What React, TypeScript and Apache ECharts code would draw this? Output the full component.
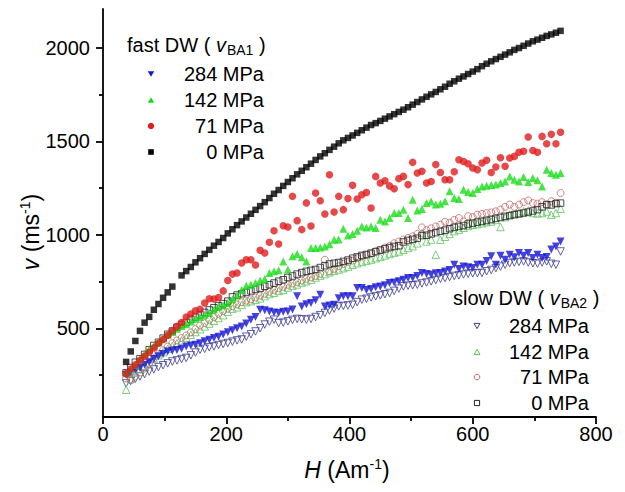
import React, { useEffect, useRef } from 'react';
import * as echarts from 'echarts';

// Magnetic field H (A/m) sampling positions shared by all series
const H = [
  37.5, 45, 52.5, 60, 67.5, 75, 82.5, 90, 97.5, 105,
  112.5, 120, 127.5, 135, 142.5, 150, 157.5, 165, 172.5, 180,
  187.5, 195, 202.5, 210, 217.5, 225, 232.5, 240, 247.5, 255,
  262.5, 270, 277.5, 285, 292.5, 300, 307.5, 315, 322.5, 330,
  337.5, 345, 352.5, 360, 367.5, 375, 382.5, 390, 397.5, 405,
  412.5, 420, 427.5, 435, 442.5, 450, 457.5, 465, 472.5, 480,
  487.5, 495, 502.5, 510, 517.5, 525, 532.5, 540, 547.5, 555,
  562.5, 570, 577.5, 585, 592.5, 600, 607.5, 615, 622.5, 630,
  637.5, 645, 652.5, 660, 667.5, 675, 682.5, 690, 697.5, 705,
  712.5, 720, 727.5, 735, 742.5,
];

// fast DW (v_BA1)
const fast0 = [
  320, 376, 432, 486, 530, 561, 599, 630, 663, 692,
  723, null, 783, 806, 828, 853, 875, 898, 920, 942,
  962, 983, 1008, 1030, 1052, 1072, 1093, 1113, 1134, 1154,
  1175, 1197, 1220, 1240, 1262, 1283, 1303, 1324, 1343, 1362,
  1381, 1401, 1420, 1437, 1455, 1472, 1490, 1506, 1519, 1532,
  1546, 1560, 1574, 1588, 1598, 1610, 1622, 1634, 1646, 1658,
  1670, 1683, 1697, 1711, 1725, 1739, 1752, 1765, 1779, 1793,
  1809, 1822, 1836, 1848, 1861, 1874, 1887, 1903, 1916, 1929,
  1941, 1953, 1965, 1977, 1990, 2000, 2012, 2024, 2036, 2045,
  2055, 2065, 2073, 2082, 2092,
];
const fast71 = [
  257, 282, 305, 328, 350, 372, 395, 420, 440, 462,
  487, 510, 531, 560, 576, 594, 601, 635, 658, 657,
  665, 700, 756, 790, 796, 849, 867, 867, 839, 917,
  903, 960, 1022, 951, 1049, 1042, 1206, 1076, 1028, 1171,
  1047, 1224, 1183, 1112, 1322, 1122, 1206, 1135, 1194, 1265,
  1192, 1215, 1227, 1144, 1313, 1278, 1290, 1262, 1247, 1301,
  1313, 1269, 1388, 1331, 1340, 1278, 1286, 1376, 1334, 1295,
  1295, 1338, 1402, 1393, 1381, 1358, 1349, 1385, 1399, 1334,
  1363, 1413, 1367, 1411, 1420, 1442, 1447, 1524, 1452, 1442,
  1527, 1488, 1538, 1488, 1549,
];
const fast142 = [
  262, 280, 305, 335, 362, 389, 405, 425, 445, 465,
  480, 497, 512, 522, 536, 551, 560, 572, 582, 600,
  617, 622, 635, 655, 675, 705, 728, 733, 742, 756,
  764, 796, 805, 810, 858, 814, 885, 898, 880, 858,
  930, 930, 932, 938, 950, 974, 975, 1033, 996, 1005,
  1022, 1045, 1040, 1045, 1037, 1081, 1072, 1090, 1117, 1117,
  1135, 1090, 1188, 1131, 1138, 1171, 1179, 1162, 1167, 1180,
  1233, 1197, 1192, 1242, 1230, 1224, 1246, 1259, 1263, 1267,
  1269, 1278, 1286, 1313, 1295, 1286, 1310, 1283, 1304, 1292,
  1259, 1349, 1331, 1322, 1331,
];
const fast284 = [
  251, 265, 278, 287, 305, 318, 335, 350, 362, 376,
  380, 383, 390, 403, 408, 412, 420, 430, 438, 448,
  455, 466, 478, 490, 500, 510, 525, 546, 560, 599,
  596, 590, 585, 582, 588, 590, 600, 671, 617, 628,
  635, 650, 680, 617, 622, 626, 660, 671, 671, 671,
  716, 716, 705, 710, 719, 724, 730, 742, 745, 751,
  760, 769, 769, 780, 796, 790, 787, 794, 796, 804,
  812, 840, 817, 831, 826, 822, 840, 840, 860, 885,
  840, 888, 867, 894, 880, 903, 888, 903, 876, 894,
  876, 882, 921, 938, 965,
];

// slow DW (v_BA2)
const slow0 = [
  262, 290, 318, 337, 360, 385, 408, 425, 447, 468,
  485, 505, 520, 531, 548, 560, 572, 585, 598, 610,
  621, 632, 645, 668, 678, 685, 692, 700, 708, 715,
  725, 733, 742, 752, 760, 772, 780, 790, 798, 805,
  810, 815, 825, 835, 844, 848, 852, 858, 865, 875,
  882, 890, 895, 902, 910, 918, 925, 932, 938, 942,
  962, 970, 976, 982, 996, 998, 1005, 1012, 1019, 1025,
  1033, 1040, 1045, 1050, 1058, 1063, 1068, 1072, 1077, 1082,
  1088, 1093, 1099, 1103, 1108, 1112, 1117, 1122, 1128, 1135,
  1150, 1162, 1160, 1167, 1170,
];
const slow71 = [
  232, 222, 242, 264, 285, 310, 338, 362, 382, 402,
  420, 435, 448, 462, 478, 495, 515, 528, 545, 560,
  578, 592, 605, 618, 628, 640, 648, 655, 665, 675,
  685, 695, 706, 714, 722, 733, 740, 748, 756, 765,
  772, 780, 792, 867, 805, 818, 832, 845, 855, 862,
  875, 885, 892, 900, 912, 920, 932, 940, 955, 965,
  975, 983, 992, 1005, 1040, 1025, 1035, 1045, 1054, 1070,
  1065, 1080, 1090, 1072, 1100, 1095, 1108, 1112, 1117, 1120,
  1126, 1135, 1150, 1162, 1150, 1162, 1175, 1184, 1170, 1167,
  1175, 1162, 1180, 1171, 1224,
];
const slow142 = [
  171, 228, 262, 282, 300, 318, 338, 355, 372, 390,
  405, 420, 435, 450, 465, 480, 495, 510, 525, 540,
  555, 570, 588, 605, 612, 625, 640, 645, 652, 660,
  672, 683, 690, 700, 705, 718, 728, 735, 745, 752,
  760, 772, 782, 790, 800, 808, 815, 822, 830, 840,
  848, 855, 862, 868, 875, 882, 890, 898, 905, 911,
  920, 930, 940, 955, 1010, 965, 975, 894, 974, 990,
  1005, 1020, 1028, 1038, 1048, 1054, 1058, 1062, 1068, 1072,
  1080, 1042, 1095, 1108, 1112, 1118, 1126, 1130, 1117, 1115,
  1117, 1125, 1108, 1117, 1140,
];
const slow284 = [
  205, 218, 230, 242, 255, 268, 280, 292, 302, 312,
  322, 328, 335, 341, 355, 370, 385, 390, 398, 403,
  410, 416, 421, 428, 435, 440, 455, 468, 483, 500,
  520, 535, 546, 528, 530, 537, 545, 550, 548, 546,
  550, 560, 570, 582, 595, 605, 617, 620, 622, 626,
  640, 653, 658, 665, 671, 676, 682, 689, 700, 712,
  724, 728, 730, 733, 740, 745, 751, 758, 765, 769,
  774, 780, 783, 788, 792, 794, 795, 796, 805, 812,
  822, 830, 840, 849, 852, 855, 858, 852, 848, 846,
  852, 858, 845, 840, 911,
];

const X_TICKS_MAJOR_INTERVAL = 200;
const Y_LABELS = [500, 1000, 1500, 2000];
const Y_MINOR = [250, 750, 1250, 1750];
const PRESSURES = ['284 MPa', '142 MPa', '71 MPa', '0 MPa'];

const FONT = '"Liberation Sans", Arial, Helvetica, sans-serif';

const C = {
  f284: '#1414d2',
  f142: '#19dc19',
  f71: '#e01c1c',
  f0: '#000000',
  s284: '#3c3c92',
  s142: '#5cc45c',
  s71: '#c26a6a',
  s0: '#222222',
};

function pts(vals: (number | null)[]) {
  const out: number[][] = [];
  H.forEach((h, i) => {
    const v = vals[i];
    if (v != null) out.push([h, v]);
  });
  return out;
}

function tri(cx: number, cy: number, s: number, down: boolean) {
  const h = s * 0.87;
  if (down) {
    return [[cx - s / 2, cy - h / 2], [cx + s / 2, cy - h / 2], [cx, cy + h / 2]];
  }
  return [[cx - s / 2, cy + h / 2], [cx + s / 2, cy + h / 2], [cx, cy - h / 2]];
}

export default function App() {
  const ref = useRef<HTMLDivElement>(null);

  useEffect(() => {
    if (!ref.current) return;
    const chart = echarts.init(ref.current, undefined, { renderer: 'svg' });

    const openStyle = (c: string) => ({ color: 'rgba(255,255,255,0)', borderColor: c, borderWidth: 1 });
    const axisLineStyle = { color: '#000', width: 1.8 };

    const textBase = { fontFamily: FONT, fill: '#000' };
    const richLegend = {
      t: { fontFamily: FONT, fontSize: 20, color: '#000' },
      i: { fontFamily: FONT, fontSize: 20, fontStyle: 'italic', color: '#000' },
      sub: { fontFamily: FONT, fontSize: 14, color: '#000', padding: [10, 0, 0, 1] },
    };

    const fastY = [74, 100, 126, 152];
    const slowY = [326, 352, 377, 403];
    const fastX = 151;
    const slowX = 477;

    const graphics: any[] = [
      // axis names
      {
        type: 'text', x: 31, y: 232, rotation: Math.PI / 2,
        style: {
          ...textBase,
          text: '{i|v}{t| (ms}{sup|-1}{t|)}',
          align: 'center', verticalAlign: 'middle',
          rich: {
            t: { fontFamily: FONT, fontSize: 23, color: '#000' },
            i: { fontFamily: FONT, fontSize: 23, fontStyle: 'italic', color: '#000' },
            sup: { fontFamily: FONT, fontSize: 14, color: '#000', padding: [0, 0, 12, 0] },
          },
        },
      },
      {
        type: 'text', x: 347, y: 470,
        style: {
          ...textBase,
          text: '{i|H}{t| (Am}{sup|-1}{t|)}',
          align: 'center', verticalAlign: 'middle',
          rich: {
            t: { fontFamily: FONT, fontSize: 23, color: '#000' },
            i: { fontFamily: FONT, fontSize: 23, fontStyle: 'italic', color: '#000' },
            sup: { fontFamily: FONT, fontSize: 14, color: '#000', padding: [0, 0, 12, 0] },
          },
        },
      },
      // fast legend header
      {
        type: 'text', x: 127, y: 45,
        style: { ...textBase, text: '{t|fast DW ( }{i|v}{sub|BA1}{t| )}', align: 'left', verticalAlign: 'middle', rich: richLegend },
      },
      // slow legend header
      {
        type: 'text', x: 453, y: 298,
        style: { ...textBase, text: '{t|slow DW ( }{i|v}{sub|BA2}{t| )}', align: 'left', verticalAlign: 'middle', rich: richLegend },
      },
    ];

    PRESSURES.forEach((p, i) => {
      graphics.push({
        type: 'text', x: 264, y: fastY[i],
        style: { ...textBase, text: p, fontSize: 20, align: 'right', verticalAlign: 'middle' },
      });
      graphics.push({
        type: 'text', x: 589, y: slowY[i],
        style: { ...textBase, text: p, fontSize: 20, align: 'right', verticalAlign: 'middle' },
      });
    });

    // fast legend markers
    graphics.push({ type: 'polygon', shape: { points: tri(fastX, fastY[0], 6.5, true) }, style: { fill: C.f284 } });
    graphics.push({ type: 'polygon', shape: { points: tri(fastX, fastY[1], 6.5, false) }, style: { fill: C.f142 } });
    graphics.push({ type: 'circle', shape: { cx: fastX, cy: fastY[2], r: 3.2 }, style: { fill: C.f71 } });
    graphics.push({ type: 'rect', shape: { x: fastX - 2.8, y: fastY[3] - 2.8, width: 5.6, height: 5.6 }, style: { fill: C.f0 } });
    // slow legend markers
    graphics.push({ type: 'polygon', shape: { points: tri(slowX, slowY[0], 6, true) }, style: { fill: 'none', stroke: C.s284, lineWidth: 1 } });
    graphics.push({ type: 'polygon', shape: { points: tri(slowX, slowY[1], 6, false) }, style: { fill: 'none', stroke: C.s142, lineWidth: 1 } });
    graphics.push({ type: 'circle', shape: { cx: slowX, cy: slowY[2], r: 2.8 }, style: { fill: 'none', stroke: C.s71, lineWidth: 1 } });
    graphics.push({ type: 'rect', shape: { x: slowX - 2.6, y: slowY[3] - 2.6, width: 5.2, height: 5.2 }, style: { fill: 'none', stroke: C.s0, lineWidth: 1 } });

    const option: any = {
      animation: false,
      backgroundColor: '#ffffff',
      grid: { left: 103, right: 29, top: 9, bottom: 75, containLabel: false, outerBoundsMode: 'none' },
      xAxis: {
        type: 'value', min: 0, max: 800, interval: X_TICKS_MAJOR_INTERVAL,
        splitLine: { show: false },
        axisLine: { show: true, onZero: false, lineStyle: axisLineStyle },
        axisTick: { show: true, length: 7, lineStyle: axisLineStyle },
        minorTick: { show: true, splitNumber: 2, length: 4, lineStyle: axisLineStyle },
        minorSplitLine: { show: false },
        axisLabel: { fontSize: 20, color: '#000', fontFamily: FONT, margin: 7, formatter: (v: number) => String(v) },
      },
      yAxis: [
        {
          type: 'value', min: 25, max: 2209,
          splitLine: { show: false },
          axisLine: { show: true, onZero: false, lineStyle: axisLineStyle },
          axisTick: { show: true, length: 7, customValues: Y_LABELS, lineStyle: axisLineStyle },
          axisLabel: { customValues: Y_LABELS, fontSize: 20, color: '#000', fontFamily: FONT, margin: 13, formatter: (v: number) => String(v) },
        },
        {
          type: 'value', min: 25, max: 2209, position: 'left',
          splitLine: { show: false },
          axisLine: { show: false },
          axisTick: { show: true, length: 4, customValues: Y_MINOR, lineStyle: axisLineStyle },
          axisLabel: { show: false },
        },
      ],
      series: [
        { type: 'scatter', name: 'slow 284 MPa', data: pts(slow284), symbol: 'triangle', symbolRotate: 180, symbolSize: 7.5, itemStyle: openStyle(C.s284) },
        { type: 'scatter', name: 'slow 142 MPa', data: pts(slow142), symbol: 'triangle', symbolSize: 7.5, itemStyle: openStyle(C.s142) },
        { type: 'scatter', name: 'slow 71 MPa', data: pts(slow71), symbol: 'circle', symbolSize: 7, itemStyle: openStyle(C.s71) },
        { type: 'scatter', name: 'slow 0 MPa', data: pts(slow0), symbol: 'rect', symbolSize: 6.5, itemStyle: openStyle(C.s0) },
        { type: 'scatter', name: 'fast 284 MPa', data: pts(fast284), symbol: 'triangle', symbolRotate: 180, symbolSize: 8, itemStyle: { color: C.f284 } },
        { type: 'scatter', name: 'fast 142 MPa', data: pts(fast142), symbol: 'triangle', symbolSize: 8, itemStyle: { color: C.f142 } },
        { type: 'scatter', name: 'fast 71 MPa', data: pts(fast71), symbol: 'circle', symbolSize: 7.5, itemStyle: { color: C.f71 } },
        { type: 'scatter', name: 'fast 0 MPa', data: pts(fast0), symbol: 'rect', symbolSize: 6.5, itemStyle: { color: C.f0 } },
      ],
      graphic: graphics,
    };

    chart.setOption(option);
    return () => chart.dispose();
  }, []);

  return <div ref={ref} style={{ position: 'fixed', left: 0, top: 0, width: 625, height: 492 }} />;
}
